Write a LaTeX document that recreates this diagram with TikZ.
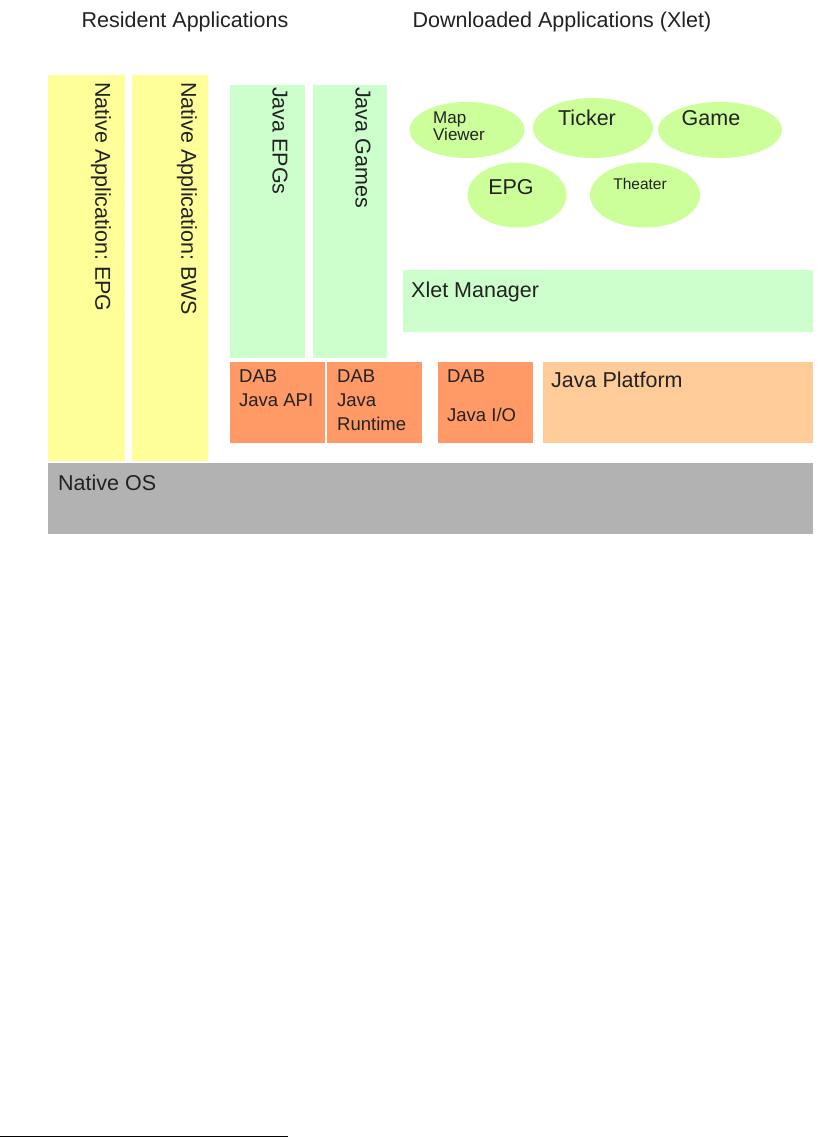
\documentclass[tikz,border=0pt]{standalone}
\usepackage{fontspec}
\setmainfont{Liberation Sans}
\usetikzlibrary{shapes.geometric,fit}
\definecolor{nativeyellow}{HTML}{FFFF99}
\definecolor{javagreen}{HTML}{CCFFCC}
\definecolor{xletgreen}{HTML}{CCFF99}
\definecolor{dabred}{HTML}{FF9966}
\definecolor{platformpeach}{HTML}{FFCC99}
\definecolor{osgray}{HTML}{B2B2B2}
\definecolor{inkgray}{HTML}{222222}
\frenchspacing

\begin{document}
\begin{tikzpicture}[x=1pt, y=-1pt,
    block/.style={rectangle, inner sep=0pt, outer sep=0pt},
    app/.style={ellipse, fill=xletgreen, inner sep=0pt},
    heading/.style={inner sep=0pt, text=inkgray, font=\fontsize{21.5}{26}\selectfont},
    vtext/.style={rotate=-90, anchor=west, inner sep=0pt, text=inkgray, font=\fontsize{21.5}{26}\selectfont},
    htext/.style={anchor=base west, inner sep=0pt, text=inkgray, font=\fontsize{21.5}{26}\selectfont},
    dabtext/.style={anchor=north west, align=left, inner sep=0pt, text=inkgray, font=\fontsize{18.5}{24}\selectfont}]
  \useasboundingbox[fill=white] (0,0) rectangle (823,1138);
  \node[heading] (resident) at (185,22) {Resident Applications};
  \node[heading] (downloaded) at (562,22) {Downloaded Applications (Xlet)};
  \node[block, fill=nativeyellow, fit={(48,75) (125,461)}] (epgbar) {};
  \node[block, fill=nativeyellow, fit={(132,75) (208,461)}] (bwsbar) {};
  \node[block, fill=javagreen, fit={(230,85) (305,358)}] (jepgbar) {};
  \node[block, fill=javagreen, fit={(313,85) (387,358)}] (jgamesbar) {};
  \node[block, fill=javagreen, fit={(403,270) (813,332)}] (xletmgr) {};
  \node[block, fill=dabred, fit={(230,362) (325,443)}] (dabapi) {};
  \node[block, fill=dabred, fit={(327,362) (422,443)}] (dabruntime) {};
  \node[block, fill=dabred, fit={(438,362) (533,443)}] (dabio) {};
  \node[block, fill=platformpeach, fit={(543,362) (813,443)}] (javaplatform) {};
  \node[block, fill=osgray, fit={(48,463) (813,534)}] (nativeos) {};
  \node[vtext] (epgtext) at (101,82) {Native Application: EPG};
  \node[vtext] (bwstext) at (187,82) {Native Application: BWS};
  \node[vtext] (jepgtext) at (280,87) {Java EPGs};
  \node[vtext] (jgamestext) at (363,87) {Java Games};
  \node[app, minimum width=115pt, minimum height=56pt] (mapviewer) at (467,130) {};
  \node[app, minimum width=120pt, minimum height=60pt] (ticker) at (593,128) {};
  \node[app, minimum width=124pt, minimum height=56pt] (game) at (720,130) {};
  \node[app, minimum width=99pt, minimum height=65pt] (epg) at (517,195) {};
  \node[app, minimum width=110pt, minimum height=65pt] (theater) at (645,195) {};
  \node[heading, anchor=north west, align=left, font=\fontsize{17}{15.5}\selectfont] (maptext) at (433,112) {Map\\Viewer};
  \node[heading] (tickertext) at (587,118) {Ticker};
  \node[heading] (gametext) at (711,118) {Game};
  \node[heading] (epgtext2) at (511,187) {EPG};
  \node[heading, font=\fontsize{15.5}{18}\selectfont] (theatertext) at (640,184) {Theater};
  \node[htext] (xlettext) at (411,297) {Xlet Manager};
  \node[dabtext] (apitext) at (239,370) {DAB\\Java API};
  \node[dabtext] (runtimetext) at (337,370) {DAB\\Java\\Runtime};
  \node[dabtext] (iotext) at (447,370) {DAB\\[15pt]Java I/O};
  \node[htext] (platformtext) at (551,387) {Java Platform};
  \node[htext] (ostext) at (58,490) {Native OS};
  \coordinate (rulestart) at (0,1136.5);
  \coordinate (ruleend) at (288,1136.5);
  \draw[line width=1.3pt] (rulestart) -- (ruleend);
\end{tikzpicture}
\end{document}
